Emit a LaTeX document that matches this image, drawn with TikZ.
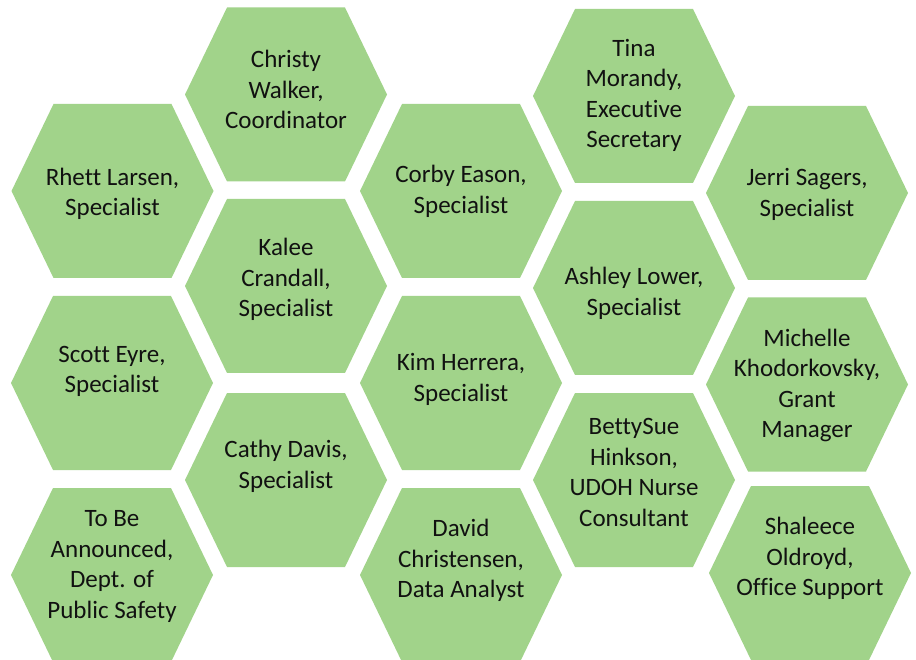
\documentclass[tikz,border=0pt]{standalone}
\usepackage{fontspec}
\setmainfont[Ligatures={NoCommon}]{Carlito}
\definecolor{hexgreen}{HTML}{A1D38A}
\definecolor{txt}{HTML}{111111}
\tikzset{
  hexfill/.style={fill=hexgreen, draw=none},
  hexlabel/.style={text=txt, align=center, inner sep=0pt, yshift=-1.5pt,
    font=\fontsize{25}{30.5}\selectfont}
}
% #1 name, #2 cx, #3 cy, #4 text y, #5 text
\newcommand{\hexcell}[5]{%
  \fill[hexfill] ({#2-101},#3) -- ({#2-59},{#3-87}) -- ({#2+59},{#3-87})
    -- ({#2+101},#3) -- ({#2+59},{#3+87}) -- ({#2-59},{#3+87}) -- cycle;
  \node[hexlabel] (#1) at (#2,#4) {#5};%
}
\begin{document}
\begin{tikzpicture}[x=1pt,y=-1pt]
\useasboundingbox (0,0) rectangle (916,660);
% column 1
\hexcell{rhett}{112.5}{191}{192.5}{Rhett Larsen,\\Specialist}
\hexcell{scott}{112}{383}{370}{Scott Eyre,\\Specialist}
\hexcell{tba}{112}{575}{565}{To Be\\Announced,\\Dept. of\\Public Safety}
% column 2
\hexcell{christy}{286}{94.5}{88}{Christy\\Walker,\\Coordinator}
\hexcell{kalee}{286}{286}{278}{Kalee\\Crandall,\\Specialist}
\hexcell{cathy}{286}{480}{465}{Cathy Davis,\\Specialist}
% column 3
\hexcell{corby}{461}{191}{190}{Corby Eason,\\Specialist}
\hexcell{kim}{461}{383}{378}{Kim Herrera,\\Specialist}
\hexcell{david}{461}{575}{559}{David\\Christensen,\\Data Analyst}
% column 4
\hexcell{tina}{634}{96}{94}{Tina\\Morandy,\\Executive\\Secretary}
\hexcell{ashley}{634}{288}{292}{Ashley Lower,\\Specialist}
\hexcell{betty}{634}{480}{471}{BettySue\\Hinkson,\\UDOH Nurse\\Consultant}
% column 5
\hexcell{jerri}{807}{193}{193}{Jerri Sagers,\\Specialist}
\hexcell{michelle}{807}{384.5}{384}{Michelle\\Khodorkovsky,\\Grant\\Manager}
\hexcell{shaleece}{810}{573}{557}{Shaleece\\Oldroyd,\\Office Support}
\end{tikzpicture}
\end{document}
